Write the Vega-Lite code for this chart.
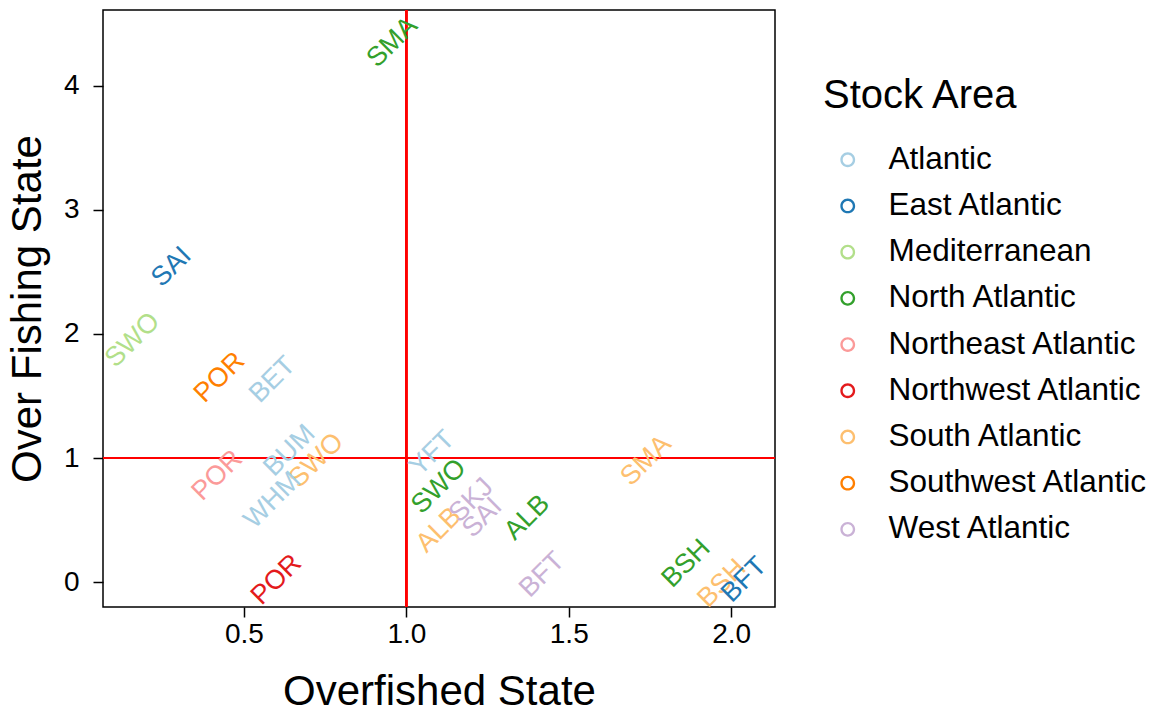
{
  "$schema": "https://vega.github.io/schema/vega-lite/v6.json",
  "autosize": {"type": "none"},
  "width": 672,
  "height": 597,
  "padding": {"left": 103, "top": 10, "right": 388, "bottom": 109},
  "background": "white",
  "config": {
    "font": "Liberation Sans",
    "view": {"stroke": "#000000", "strokeWidth": 1.5}
  },
  "data": {
    "values": [
      {"species": "SMA", "area": "North Atlantic", "overfished": 0.957, "overfishing": 4.35},
      {"species": "SAI", "area": "East Atlantic", "overfished": 0.277, "overfishing": 2.54},
      {"species": "SWO", "area": "Mediterranean", "overfished": 0.157, "overfishing": 1.95},
      {"species": "POR", "area": "Southwest Atlantic", "overfished": 0.425, "overfishing": 1.65},
      {"species": "BET", "area": "Atlantic", "overfished": 0.588, "overfishing": 1.63},
      {"species": "POR", "area": "Northeast Atlantic", "overfished": 0.418, "overfishing": 0.86},
      {"species": "BUM", "area": "Atlantic", "overfished": 0.64, "overfishing": 1.06},
      {"species": "SWO", "area": "South Atlantic", "overfished": 0.723, "overfishing": 0.98},
      {"species": "WHM", "area": "Atlantic", "overfished": 0.588, "overfishing": 0.66},
      {"species": "POR", "area": "Northwest Atlantic", "overfished": 0.60, "overfishing": 0.02},
      {"species": "YFT", "area": "Atlantic", "overfished": 1.08, "overfishing": 1.04},
      {"species": "SWO", "area": "North Atlantic", "overfished": 1.10, "overfishing": 0.77},
      {"species": "ALB", "area": "South Atlantic", "overfished": 1.10, "overfishing": 0.42},
      {"species": "SKJ", "area": "West Atlantic", "overfished": 1.20, "overfishing": 0.66},
      {"species": "SAI", "area": "West Atlantic", "overfished": 1.234, "overfishing": 0.52},
      {"species": "ALB", "area": "North Atlantic", "overfished": 1.372, "overfishing": 0.52},
      {"species": "BFT", "area": "West Atlantic", "overfished": 1.418, "overfishing": 0.06},
      {"species": "SMA", "area": "South Atlantic", "overfished": 1.738, "overfishing": 0.98},
      {"species": "BSH", "area": "North Atlantic", "overfished": 1.862, "overfishing": 0.15},
      {"species": "BSH", "area": "South Atlantic", "overfished": 1.972, "overfishing": -0.01},
      {"species": "BFT", "area": "East Atlantic", "overfished": 2.04, "overfishing": 0.02}
    ]
  },
  "layer": [
    {
      "mark": {"type": "rule", "color": "#ff0000", "strokeWidth": 1.5},
      "encoding": {"x": {"datum": 1, "type": "quantitative", "scale": {"domain": [0.066, 2.135], "nice": false, "zero": false}}}
    },
    {
      "mark": {"type": "rule", "color": "#ff0000", "strokeWidth": 1.5},
      "encoding": {"y": {"datum": 1, "type": "quantitative", "scale": {"domain": [-0.2, 4.61], "nice": false, "zero": false}}}
    },
    {
      "mark": {"type": "text", "angle": -45, "fontSize": 27, "align": "center", "baseline": "middle", "font": "Liberation Sans"},
      "encoding": {
        "x": {
          "field": "overfished", "type": "quantitative",
          "scale": {"domain": [0.066, 2.135], "nice": false, "zero": false},
          "axis": {
            "title": "Overfished State", "values": [0.5, 1.0, 1.5, 2.0], "format": ".1f",
            "grid": false, "domain": false, "tickColor": "#000000", "tickSize": 10, "tickWidth": 1.5,
            "labelFontSize": 28, "labelColor": "#000000", "labelPadding": 3,
            "titleFontSize": 42, "titleFontWeight": "normal", "titleColor": "#000000", "titlePadding": 23
          }
        },
        "y": {
          "field": "overfishing", "type": "quantitative",
          "scale": {"domain": [-0.2, 4.61], "nice": false, "zero": false},
          "axis": {
            "title": "Over Fishing State", "values": [0, 1, 2, 3, 4], "format": "d",
            "grid": false, "domain": false, "tickColor": "#000000", "tickSize": 10, "tickWidth": 1.5,
            "labelFontSize": 28, "labelColor": "#000000", "labelPadding": 14,
            "titleFontSize": 42, "titleFontWeight": "normal", "titleColor": "#000000", "titlePadding": 14
          }
        },
        "text": {"field": "species", "type": "nominal"},
        "color": {
          "field": "area", "type": "nominal",
          "scale": {
            "domain": ["Atlantic", "East Atlantic", "Mediterranean", "North Atlantic", "Northeast Atlantic", "Northwest Atlantic", "South Atlantic", "Southwest Atlantic", "West Atlantic"],
            "range": ["#a6cee3", "#1f78b4", "#b2df8a", "#33a02c", "#fb9a99", "#e31a1c", "#fdbf6f", "#ff7f00", "#cab2d6"]
          },
          "legend": {
            "title": "Stock Area", "orient": "none", "legendX": 720, "legendY": 66,
            "titleFontSize": 40, "titleFontWeight": "normal", "titleColor": "#000000", "titlePadding": 28, "titleLimit": 400,
            "labelFontSize": 31.5, "labelColor": "#000000", "labelOffset": 25, "labelLimit": 400,
            "symbolType": "M1,0A1,1 0 1,1 -1,0A1,1 0 1,1 1,0ZM0.68,0A0.68,0.68 0 1,0 -0.68,0A0.68,0.68 0 1,0 0.68,0Z",
            "symbolSize": 220,
            "rowPadding": 13.2,
            "symbolOffset": 9
          }
        }
      }
    }
  ]
}
